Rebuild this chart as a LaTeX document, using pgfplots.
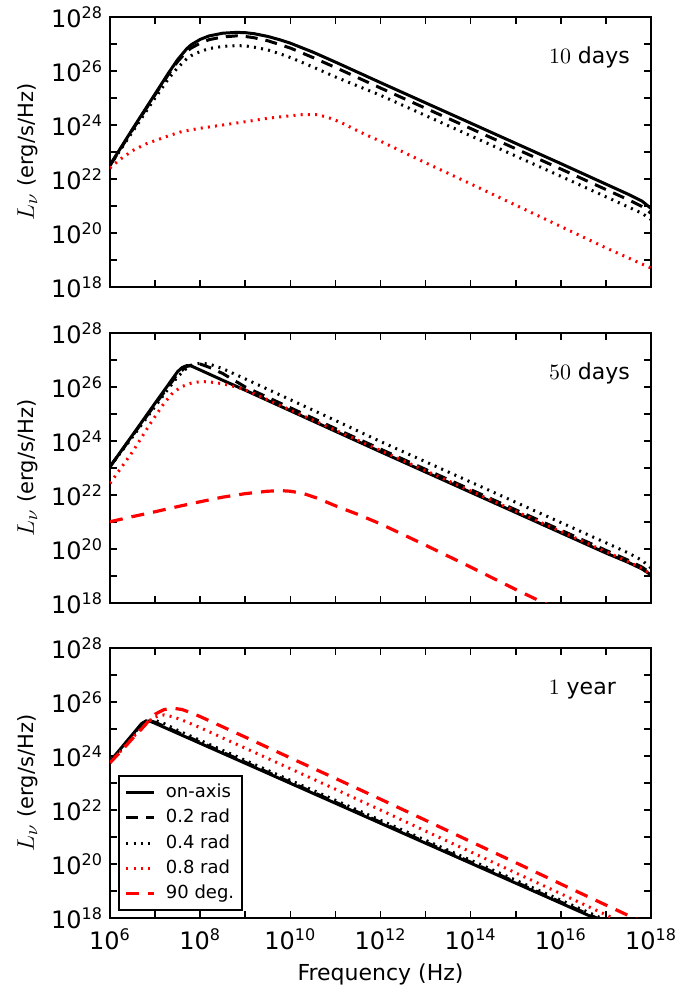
\documentclass[border=0pt]{standalone}
\usepackage{fontspec}
\setmainfont{DejaVu Sans}
\usepackage{pgfplots}
\pgfplotsset{compat=1.18}

\pgfplotsset{
 panel/.style={scale only axis,width=270.5pt,height=135pt,anchor=south west,
  log basis x=10,log basis y=10,
  xmin=1e6,xmax=1e18,ymin=1e18,ymax=1e28,
  xtickten={6,...,18},ytickten={18,...,28},xminorticks=false,
  yticklabels={10\textsuperscript{18},,10\textsuperscript{20},,10\textsuperscript{22},,10\textsuperscript{24},,10\textsuperscript{26},,10\textsuperscript{28}},
  tick label style={font=\fontsize{12}{14}\selectfont},
  xticklabel style={yshift=-2pt},
  major tick length=3.5pt,minor tick length=2pt,
  major tick style={line width=0.8pt,black},minor tick style={line width=0.6pt,black},
  axis line style={line width=1pt},
  ylabel={{\fontsize{12.5}{14}\selectfont$L_\nu$} (erg/s/Hz)},
  ylabel style={font=\fontsize{10.5}{12}\selectfont,at={(axis description cs:-0.152,0.5)},anchor=center}},
 onaxis/.style={black,line width=1.5pt,solid},
 rA/.style={black,line width=1.5pt,dash pattern=on 6pt off 4pt},
 rB/.style={black,line width=1.5pt,dash pattern=on 1pt off 2.6pt},
 rC/.style={red,line width=1.5pt,dash pattern=on 1pt off 2.6pt},
 rD/.style={red,line width=1.6pt,dash pattern=on 6.5pt off 4.5pt}
}
\tikzset{lab/.style={anchor=east,font=\fontsize{11}{13}\selectfont}}

\begin{document}
\begin{tikzpicture}
\path[use as bounding box] (-55pt,-37pt) rectangle (294.5pt,459pt);

% ---- 10 days
\begin{loglogaxis}[panel,at={(0pt,315.5pt)},xticklabels={}]
\addplot[onaxis] coordinates {(1e6,3.311e22) (3.162e6,7.079e23) (1e7,1.413e25) (1.995e7,8.511e25) (3.162e7,2.630e26) (5.012e7,6.607e26) (6.310e7,9.333e26) (1e8,1.479e27) (1.585e8,1.995e27) (3.162e8,2.512e27) (6.310e8,2.692e27) (1e9,2.630e27) (1.585e9,2.399e27) (3.162e9,1.905e27) (6.310e9,1.380e27) (1e10,1.072e27) (3.162e10,5.012e26) (1e11,2.138e26) (1e12,3.715e25) (1e13,6.607e24) (1e14,1.175e24) (1e15,2.089e23) (1e16,3.715e22) (1e17,6.457e21) (3.162e17,2.692e21) (6.310e17,1.514e21) (1e18,8.128e20)};
\addplot[rA] coordinates {(1e6,3.162e22) (3.162e6,6.607e23) (1e7,1.318e25) (1.995e7,7.586e25) (3.162e7,2.239e26) (5.012e7,5.248e26) (6.310e7,7.079e26) (1e8,1.072e27) (1.585e8,1.445e27) (3.162e8,1.820e27) (6.310e8,1.995e27) (1e9,1.905e27) (1.585e9,1.698e27) (3.162e9,1.318e27) (6.310e9,9.120e26) (1e10,7.079e26) (3.162e10,3.162e26) (1e11,1.349e26) (1e12,2.344e25) (1e13,4.169e24) (1e14,7.413e23) (1e15,1.318e23) (1e16,2.344e22) (1e17,4.074e21) (3.162e17,1.698e21) (6.310e17,9.550e20) (1e18,5.370e20)};
\addplot[rB] coordinates {(1e6,3.162e22) (3.162e6,5.623e23) (1e7,1e25) (1.995e7,5.248e25) (3.162e7,1.318e26) (5.012e7,2.818e26) (6.310e7,3.715e26) (1e8,5.248e26) (1.585e8,6.761e26) (3.162e8,8.128e26) (6.310e8,8.710e26) (1e9,8.511e26) (1.585e9,7.586e26) (3.162e9,6.026e26) (6.310e9,4.169e26) (1e10,3.162e26) (3.162e10,1.413e26) (1e11,6.026e25) (1e12,1.259e25) (1e13,2.239e24) (1e14,3.981e23) (1e15,7.079e22) (1e16,1.259e22) (1e17,2.188e21) (3.162e17,9.120e20) (6.310e17,5.370e20) (1e18,3.162e20)};
\addplot[rC] coordinates {(1e6,2.512e22) (1.585e6,5.012e22) (3.162e6,1.122e23) (6.310e6,1.995e23) (1e7,2.630e23) (1.995e7,3.981e23) (3.981e7,5.754e23) (1e8,7.586e23) (3.162e8,1e24) (1e9,1.318e24) (3.162e9,1.778e24) (1e10,2.188e24) (1.995e10,2.455e24) (3.981e10,2.399e24) (6.310e10,1.995e24) (1e11,1.514e24) (1.585e11,1.072e24) (2.512e11,7.244e23) (5.012e11,4.169e23) (1e12,2.512e23) (3.162e12,1e23) (1e13,3.981e22) (1e14,6.607e21) (1e15,1.072e21) (1e16,1.738e20) (1e17,2.818e19) (1e18,5.012e18)};
\node[lab] at (rel axis cs:0.974,0.852) {$10$ days};
\end{loglogaxis}

% ---- 50 days
\begin{loglogaxis}[panel,at={(0pt,157.5pt)},xticklabels={}]
\addplot[onaxis] coordinates {(1e6,1.122e23) (3.162e6,1.660e24) (1e7,2.512e25) (1.995e7,1.259e26) (3.162e7,3.715e26) (3.981e7,5.248e26) (5.012e7,6.166e26) (6.310e7,6.026e26) (1e8,4.266e26) (3.162e8,1.778e26) (1e9,7.586e25) (1e10,1.318e25) (1e11,2.291e24) (1e12,3.981e23) (1e13,7.079e22) (1e14,1.259e22) (1e15,2.239e21) (1e16,3.981e20) (1e17,7.079e19) (3.162e17,3.162e19) (6.310e17,1.820e19) (1e18,1.096e19)};
\addplot[rA] coordinates {(1e6,1.122e23) (3.162e6,1.585e24) (1e7,2.239e25) (1.995e7,1.072e26) (3.162e7,3.020e26) (5.012e7,5.754e26) (7.943e7,7.244e26) (1e8,7.079e26) (1.585e8,5.370e26) (3.162e8,3.162e26) (1e9,1e26) (1e10,1.698e25) (1e11,2.884e24) (1e12,5.012e23) (1e13,8.913e22) (1e14,1.585e22) (1e15,2.818e21) (1e16,5.012e20) (1e17,8.913e19) (3.162e17,3.802e19) (6.310e17,2.138e19) (1e18,1.259e19)};
\addplot[rB] coordinates {(1e6,1.122e23) (3.162e6,1.413e24) (1e7,1.905e25) (1.995e7,8.913e25) (3.162e7,2.399e26) (5.012e7,5.012e26) (7.943e7,7.079e26) (1e8,7.586e26) (1.585e8,7.079e26) (3.162e8,4.786e26) (1e9,1.995e26) (1e10,3.388e25) (1e11,5.754e24) (1e12,9.550e23) (1e13,1.698e23) (1e14,3.020e22) (1e15,5.370e21) (1e16,9.550e20) (1e17,1.698e20) (3.162e17,7.079e19) (6.310e17,3.802e19) (1e18,1.995e19)};
\addplot[rC] coordinates {(1e6,2.692e22) (3.162e6,3.981e23) (7.943e6,4.571e24) (1.585e7,2.512e25) (2.512e7,6.310e25) (3.981e7,1.047e26) (6.310e7,1.380e26) (1e8,1.585e26) (1.585e8,1.549e26) (3.162e8,1.318e26) (6.310e8,1e26) (1e9,7.943e25) (1e10,1.413e25) (1e11,2.512e24) (1e12,4.467e23) (1e13,7.943e22) (1e14,1.413e22) (1e15,2.512e21) (1e16,4.467e20) (1e17,7.943e19) (3.162e17,3.388e19) (6.310e17,1.905e19) (1e18,1.148e19)};
\addplot[rD] coordinates {(1e6,1.023e21) (3.162e6,1.585e21) (1e7,2.399e21) (3.162e7,3.715e21) (1e8,5.623e21) (3.162e8,8.318e21) (1e9,1.122e22) (3.162e9,1.380e22) (6.310e9,1.445e22) (1e10,1.380e22) (1.995e10,1.122e22) (3.981e10,7.586e21) (1e11,3.981e21) (3.162e11,1.905e21) (1e12,8.511e20) (1e13,1.380e20) (1e14,2.138e19) (1e15,3.162e18) (1e16,5.012e17)};
\node[lab] at (rel axis cs:0.974,0.852) {$50$ days};
\end{loglogaxis}

% ---- 1 year
\begin{loglogaxis}[panel,at={(0pt,0pt)},
  xticklabels={10\textsuperscript{6},,10\textsuperscript{8},,10\textsuperscript{10},,10\textsuperscript{12},,10\textsuperscript{14},,10\textsuperscript{16},,10\textsuperscript{18}},
  xlabel={Frequency (Hz)},xlabel style={font=\fontsize{11}{13}\selectfont},
  legend cell align=left,
  legend image code/.code={\draw[#1] (0pt,0pt) -- (14pt,0pt);},
  legend style={at={(0.015,0.025)},anchor=south west,draw=black,line width=1pt,
    font=\fontsize{9}{11}\selectfont,column sep=4pt,row sep=2.3pt,inner xsep=2.8pt,inner ysep=3pt,
    nodes={text height=7pt,text depth=2pt,inner ysep=0.7pt,inner xsep=1pt}}]
\addplot[onaxis] coordinates {(1e6,6.166e23) (1.585e6,1.585e24) (2.512e6,3.981e24) (3.981e6,1e25) (5.012e6,1.585e25) (6.310e6,1.995e25) (7.943e6,1.905e25) (1e7,1.622e25) (3.162e7,6.918e24) (1e8,2.951e24) (1e9,5.370e23) (1e10,9.772e22) (1e11,1.778e22) (1e12,3.236e21) (1e13,5.888e20) (1e14,1.072e20) (1e15,1.950e19) (1e16,3.548e18) (1e17,6.457e17)};
\addlegendentry{on-axis}
\addplot[rA] coordinates {(1e6,6.166e23) (1.585e6,1.514e24) (2.512e6,3.715e24) (3.981e6,9.333e24) (5.012e6,1.479e25) (6.310e6,1.995e25) (7.943e6,1.995e25) (1e7,1.778e25) (3.162e7,7.586e24) (1e8,3.236e24) (1e9,5.888e23) (1e10,1.072e23) (1e11,1.950e22) (1e12,3.548e21) (1e13,6.457e20) (1e14,1.175e20) (1e15,2.138e19) (1e16,3.890e18) (1e17,7.079e17)};
\addlegendentry{0.2 rad}
\addplot[rB] coordinates {(1e6,6.166e23) (1.585e6,1.479e24) (2.512e6,3.548e24) (3.981e6,8.511e24) (5.012e6,1.318e25) (6.310e6,1.862e25) (7.943e6,2.138e25) (1e7,2.089e25) (1.585e7,1.585e25) (3.162e7,8.913e24) (1e8,3.802e24) (1e9,6.918e23) (1e10,1.259e23) (1e11,2.291e22) (1e12,4.169e21) (1e13,7.586e20) (1e14,1.380e20) (1e15,2.512e19) (1e16,4.571e18) (1e17,8.318e17)};
\addlegendentry{0.4 rad}
\addplot[rC] coordinates {(1e6,5.623e23) (1.995e6,1.995e24) (3.162e6,4.677e24) (5.012e6,1.047e25) (7.943e6,2.138e25) (1e7,2.754e25) (1.259e7,3.162e25) (1.585e7,3.311e25) (2.512e7,2.818e25) (3.981e7,2.138e25) (1e8,1.122e25) (1e9,1.950e24) (1e10,3.388e23) (1e11,5.888e22) (1e12,1e22) (1e13,1.660e21) (1e14,2.818e20) (1e15,4.677e19) (1e16,7.943e18) (1e17,1.318e18) (1e18,2.239e17)};
\addlegendentry{0.8 rad}
\addplot[rD] coordinates {(1e6,5.623e23) (1.995e6,1.905e24) (3.162e6,4.467e24) (5.012e6,1e25) (7.943e6,2.399e25) (1e7,3.548e25) (1.585e7,5.248e25) (2.512e7,5.888e25) (3.981e7,5.248e25) (6.310e7,3.981e25) (1e8,2.884e25) (1e9,5.012e24) (1e10,8.511e23) (1e11,1.479e23) (1e12,2.512e22) (1e13,4.169e21) (1e14,6.761e20) (1e15,1.122e20) (1e16,1.820e19) (1e17,3.020e18) (1e18,5.012e17)};
\addlegendentry{90 deg.}
\node[lab] at (rel axis cs:0.948,0.844) {$1$ year};
\end{loglogaxis}
\end{tikzpicture}
\end{document}
